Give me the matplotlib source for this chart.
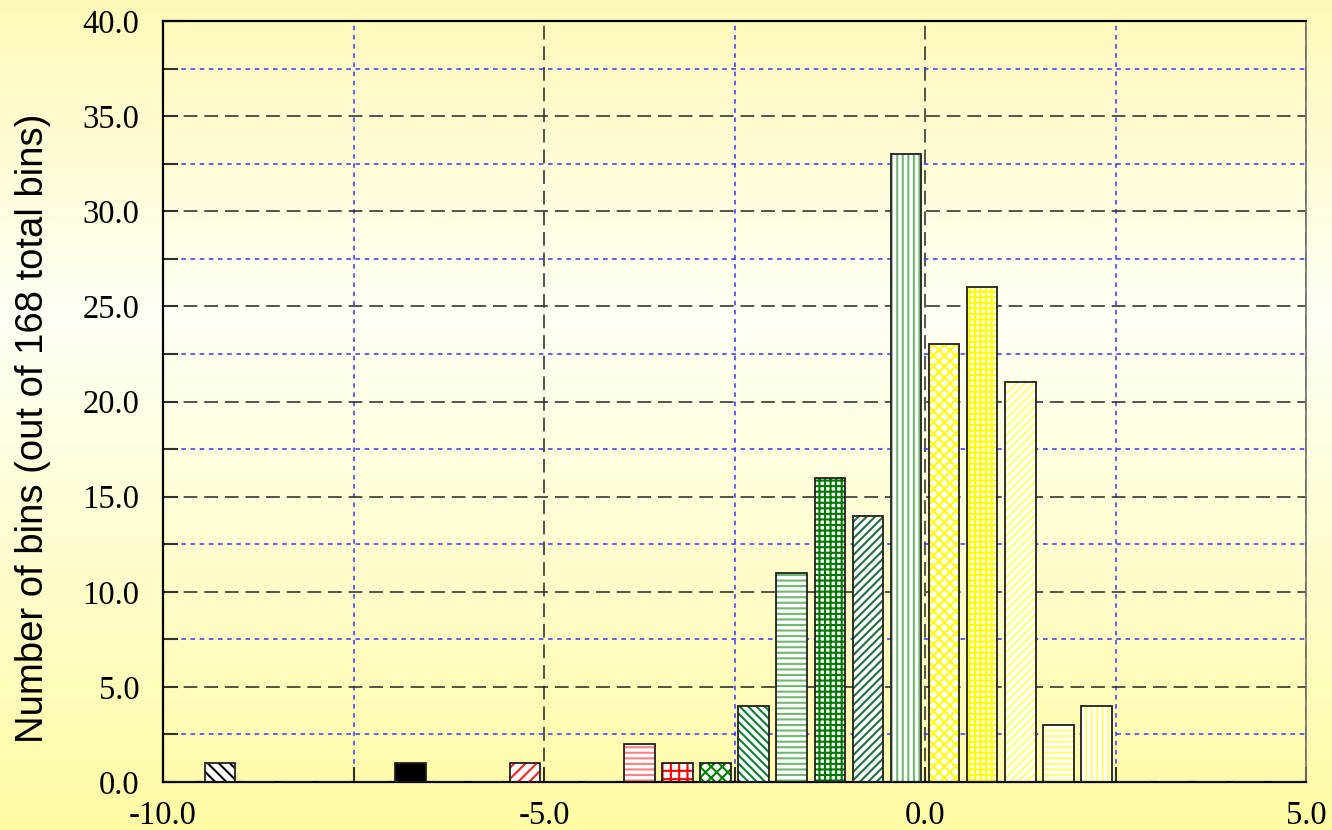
import numpy as np
import matplotlib
matplotlib.use('Agg')
import matplotlib.pyplot as plt
from matplotlib.colors import LinearSegmentedColormap
from matplotlib.ticker import MultipleLocator, FormatStrFormatter

# histogram data (bin centres, counts per bin)
bin_centers = [-9.75, -9.25, -8.75, -8.25, -7.75, -7.25, -6.75, -6.25, -5.75, -5.25,
               -4.75, -4.25, -3.75, -3.25, -2.75, -2.25, -1.75, -1.25, -0.75, -0.25,
               0.25, 0.75, 1.25, 1.75, 2.25, 2.75, 3.25, 3.75, 4.25, 4.75]
counts = [0, 1, 0, 0, 0, 0, 1, 0, 0, 1,
          0, 0, 2, 1, 1, 4, 11, 16, 14, 33,
          23, 26, 21, 3, 4, 0, 0, 0, 0, 0]
x_ticks = [-10.0, -5.0, 0.0, 5.0]
y_ticks = [0, 5, 10, 15, 20, 25, 30, 35, 40]
ylabel = 'Number of bins (out of 168 total bins)'

# hatch pattern / colour for each bin (None = empty bin)
hatches = [None, '\\\\\\', None, None, None, None, 'solid', None, None, '///',
           None, None, '---', '++', 'xxx', '\\\\\\\\', '---', '+++', '////', '|||',
           'xxx', '+++', '////', '---', '|||', None, None, None, None, None]
hatch_colors = [None, 'black', None, None, None, None, 'black', None, None, '#FF2020',
                None, None, '#FF8080', '#FF0000', '#008000', '#108030', '#70B870', '#007800', '#207040', '#70B870',
                '#FFFF00', '#FFFF00', '#FFFF70', '#FFFF70', '#FFFF70', None, None, None, None, None]

plt.rcParams['hatch.linewidth'] = 1.5

fig = plt.figure(figsize=(13.32, 8.30), dpi=100)

# background gradient for the whole figure
bg = fig.add_axes([0, 0, 1, 1], zorder=-10)
cmap = LinearSegmentedColormap.from_list(
    'bg', [(0.0, '#FFF9B8'), (0.38, '#FFFFF4'), (1.0, '#FFFBA4')])
grad = np.linspace(0, 1, 256).reshape(-1, 1)
bg.imshow(grad, aspect='auto', cmap=cmap, extent=[0, 1, 0, 1], origin='upper')
bg.axis('off')

ax = fig.add_axes([0.1224, 0.0578, 0.8581, 0.9169])
ax.patch.set_alpha(0)

# hatched fill
fill_bars = ax.bar(bin_centers, counts, width=0.4, color='white', linewidth=0, zorder=2)
for patch, h, c in zip(fill_bars, hatches, hatch_colors):
    if h is None:
        patch.set_visible(False)
    elif h == 'solid':
        patch.set_facecolor(c)
    else:
        patch.set_hatch(h)
        patch.set_edgecolor(c)
# outlines
ax.bar(bin_centers, counts, width=0.4, fill=False, edgecolor='#202020', linewidth=1.3, zorder=3)

ax.set_xlim(-10, 5)
ax.set_ylim(0, 40)
ax.set_xticks(x_ticks)
ax.set_yticks(y_ticks)
ax.xaxis.set_minor_locator(MultipleLocator(2.5))
ax.yaxis.set_minor_locator(MultipleLocator(2.5))
ax.xaxis.set_major_formatter(FormatStrFormatter('%.1f'))
ax.yaxis.set_major_formatter(FormatStrFormatter('%.1f'))

ax.set_axisbelow(True)
ax.grid(which='major', color='#252525', linestyle=(0, (9, 4.5)), linewidth=1.1)
ax.grid(which='minor', color='#3535FF', linestyle=(0, (3, 3)), linewidth=1.1)

ax.tick_params(which='both', direction='in', length=11, width=1.5, color='#303030',
               top=False, right=False)
ax.tick_params(axis='y', which='major', pad=17)
ax.tick_params(axis='x', which='major', pad=13)
for lab in ax.get_xticklabels() + ax.get_yticklabels():
    lab.set_fontfamily('Liberation Serif')
    lab.set_fontsize(23.5)

for side in ['left', 'bottom', 'top']:
    ax.spines[side].set_linewidth(1.6)
    ax.spines[side].set_color('black')
ax.spines['right'].set_linewidth(1.2)
ax.spines['right'].set_color('#707070')

fig.text(33 / 1332, 1 - 428 / 830, ylabel, rotation=90, ha='center', va='center',
         fontsize=27.5, family='Liberation Sans')

fig.savefig('out.png', dpi=100)
